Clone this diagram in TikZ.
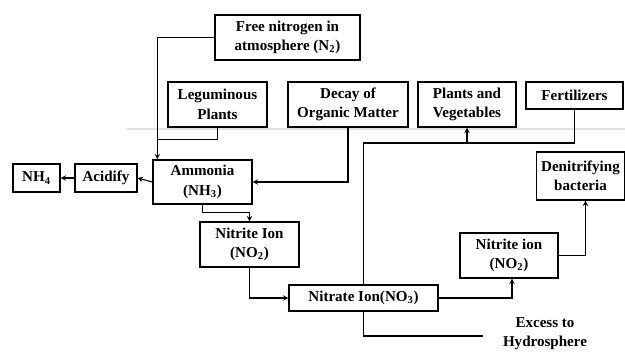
\documentclass[tikz,border=0pt]{standalone}
\usepackage{fontspec}
\setmainfont{Liberation Serif}
\usetikzlibrary{arrows,calc}

\tikzset{
  cell/.style={draw, line width=1pt, align=center, inner sep=1pt,
    font=\fontsize{11.3}{14.5}\selectfont\bfseries},
  boxsize/.style 2 args={minimum width=#1*0.75pt, minimum height=#2*0.75pt},
  link/.style={line width=0.8pt},
  >=stealth
}

\begin{document}
\begin{tikzpicture}[x=0.75pt,y=-0.75pt]
    \useasboundingbox (0,0) rectangle (625,352);

    % fold of the page
    \draw[black!12, line width=1.6pt] (127,129) -- (625,129);

    \node[cell, boxsize={145}{45}] (free) at (287.5,37.5)
        {Free nitrogen in\\atmosphere (N\textsubscript{2})};
    \node[cell, boxsize={99}{45}] (legum) at (217.5,104.5)
        {Leguminous\\Plants};
    \node[cell, boxsize={120}{45}] (decay) at (348,104.5)
        {Decay of\\Organic Matter};
    \node[cell, boxsize={98}{45}] (plants) at (467,104.5)
        {Plants and\\Vegetables};
    \node[cell, boxsize={97}{27}] (fert) at (574.5,95.5)
        {Fertilizers};

    \node[cell, boxsize={47}{28}] (nh4) at (36.5,178)
        {NH\textsubscript{4}};
    \node[cell, boxsize={62}{28}] (acid) at (106,178)
        {Acidify};
    \node[cell, boxsize={99}{44}] (ammonia) at (202.5,182)
        {Ammonia\\(NH\textsubscript{3})};
    \node[cell, boxsize={88}{48}] (denit) at (580.5,176)
        {Denitrifying\\bacteria};

    \node[cell, boxsize={99}{45}] (nitriteA) at (249.5,244.5)
        {Nitrite Ion\\(NO\textsubscript{2})};
    \node[cell, boxsize={98}{45}] (nitriteB) at (509,255.5)
        {Nitrite ion\\(NO\textsubscript{2})};
    \node[cell, boxsize={149}{26}] (nitrate) at (363.5,298)
        {Nitrate Ion(NO\textsubscript{3})};
    \node[align=center, font=\fontsize{11.3}{14.5}\selectfont\bfseries] (excess) at (545,334)
        {Excess to\\Hydrosphere};

    \coordinate (feed) at (plants.south |- 0,143);
    \coordinate (sea) at (483,336);

    % into ammonia
    \draw[link,->] (free.west) -| ($(ammonia.north west)+(5,0)$);
    \draw[link] (legum.south) |- ($(ammonia.north west)+(5,-20)$);
    \draw[link,->] (decay.south) |- (ammonia.east);

    \draw[link,->] (ammonia.west) -- (acid.east);
    \draw[link,->] (acid.west) -- (nh4.east);

    \draw[link,->] (ammonia.south) -- ++(0,8) -| (nitriteA.north);
    \draw[link,->] (nitriteA.south) |- (nitrate.west);

    % nitrate and fertilizers feed the plants
    \draw[link] (nitrate.north) |- (feed) -| (fert.south);
    \draw[link,->] (feed) -- (plants.south);

    \draw[link,->] (nitrate.east) -| ($(nitriteB.south)+(3,0)$);
    \draw[link,->] (nitriteB.east) -| ($(denit.south)+(5,0)$);
    \draw[link] (nitrate.south) |- (sea);

\end{tikzpicture}
\end{document}
